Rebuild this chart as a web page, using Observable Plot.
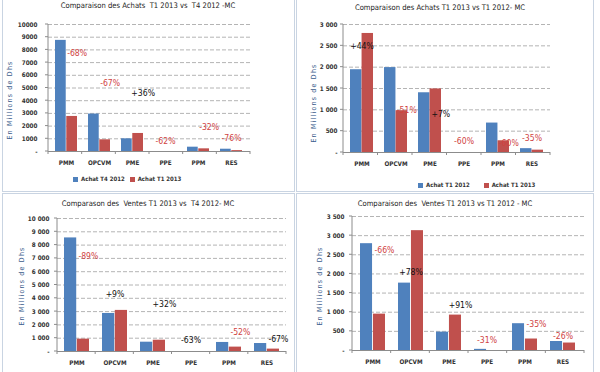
<!DOCTYPE html>
<html><head><meta charset="utf-8">
<script src="https://cdn.jsdelivr.net/npm/d3@7"></script>
<script src="https://cdn.jsdelivr.net/npm/@observablehq/plot@0.6"></script>
<style>
body{margin:0;background:#fff;}
#page{position:relative;width:600px;height:372px;overflow:hidden;background:#fff;font-family:"Liberation Sans Narrow","DejaVu Sans Condensed","Liberation Sans",sans-serif;}
.box{position:absolute;border:1px solid #c9d4e2;box-sizing:border-box;}
.title{position:absolute;width:300px;text-align:center;font-size:7.6px;color:#222;line-height:1;white-space:pre;}
.ylab{position:absolute;font-size:7px;color:#3b5c8c;letter-spacing:1.2px;white-space:nowrap;transform:translate(-50%,-50%) rotate(-90deg);line-height:1;}
.legend{position:absolute;font-size:6px;font-weight:bold;color:#333;white-space:nowrap;line-height:1;}
.sw{display:inline-block;width:5px;height:5px;margin-right:3px;vertical-align:-1px;}
.chart{position:absolute;}
</style></head><body><div id="page"></div>
<script>
const categories = ["PMM","OPCVM","PME","PPE","PPM","RES"];

// Panel 1 : Achats T1 2013 vs T4 2012
const p1Title = "Comparaison des Achats  T1 2013 vs  T4 2012 -MC";
const p1Series = ["Achat T4 2012","Achat T1 2013"];
const p1Blue = [8750, 2950, 1000, 0, 340, 180];
const p1Red  = [2760, 920, 1420, 0, 210, 70];
const p1Ticks = [0,1000,2000,3000,4000,5000,6000,7000,8000,9000,10000];
const p1TickLabels = ["-","1000","2000","3000","4000","5000","6000","7000","8000","9000","10000"];
const p1Labels = ["-68%","-67%","+36%","-62%","-32%","-76%"];
const p1LabelY = [7700, 5380, 4550, 790, 1910, 1080];
const p1LabelSide = ["r","r","r","c","r","c"];
const p1LabelTone = ["neg","neg","pos","neg","neg","neg"];

// Panel 2 : Achats T1 2013 vs T1 2012
const p2Title = "Comparaison des Achats T1 2013 vs T1 2012- MC";
const p2Series = ["Achat T1 2012","Achat T1 2013"];
const p2Blue = [1940, 1990, 1400, 0, 690, 90];
const p2Red  = [2790, 980, 1490, 0, 275, 55];
const p2Ticks = [0,500,1000,1500,2000,2500,3000];
const p2TickLabels = ["-","500","1 000","1 500","2 000","2 500","3 000"];
const p2Labels = ["+44%","-51%","+7%","-60%","-60%","-35%"];
const p2LabelY = [2490, 1000, 900, 260, 212, 340];
const p2LabelSide = ["c","r","r","c","r","c"];
const p2LabelTone = ["pos","neg","pos","neg","neg","neg"];

// Panel 3 : Ventes T1 2013 vs T4 2012
const p3Title = "Comparason des  Ventes T1 2013 vs  T4 2012- MC";
const p3Blue = [8540, 2860, 700, 0, 680, 600];
const p3Red  = [930, 3090, 850, 0, 330, 180];
const p3Ticks = [0,1000,2000,3000,4000,5000,6000,7000,8000,9000,10000];
const p3TickLabels = ["-","1 000","2 000","3 000","4 000","5 000","6 000","7 000","8 000","9 000","10 000"];
const p3Labels = ["-89%","+9%","+32%","-63%","-52%","-67%"];
const p3LabelY = [7160, 4270, 3520, 830, 1460, 930];
const p3LabelSide = ["r","c","r","c","r","r"];
const p3LabelTone = ["neg","pos","pos","pos","neg","pos"];

// Panel 4 : Ventes T1 2013 vs T1 2012
const p4Title = "Comparaison des  Ventes T1 2013 vs T1 2012 - MC";
const p4Blue = [2790, 1760, 480, 30, 700, 235];
const p4Red  = [950, 3130, 925, 0, 300, 195];
const p4Ticks = [0,500,1000,1500,2000,2500,3000,3500];
const p4TickLabels = ["-","500","1 000","1 500","2 000","2 500","3 000","3 500"];
const p4Labels = ["-66%","+78%","+91%","-31%","-35%","-26%"];
const p4LabelY = [2620, 2040, 1180, 260, 690, 380];
const p4LabelSide = ["r","c","r","c","r","c"];
const p4LabelTone = ["neg","pos","pos","neg","neg","neg"];

const BLUE = "#4f81bd", RED = "#c0504d";
const TONE = {neg: "#d0433f", pos: "#111"};
const yLabelText = "En Millions de Dhs";
const page = document.getElementById("page");

function el(cls, css, html) {
  const d = document.createElement("div");
  d.className = cls; Object.assign(d.style, css); if (html != null) d.innerHTML = html;
  page.appendChild(d); return d;
}

function panel(cfg) {
  const {rect, frame, blue, red, ticks, tickLabels, labels, labelY, labelSide, labelTone, tickPadding} = cfg;
  const pad = 0.33;
  const band = d3.scaleBand().domain(categories).range([frame.x0, frame.x1]).paddingInner(pad).paddingOuter(pad / 2);
  const bw = band.bandwidth();
  const fmt = new Map(ticks.map((t, i) => [t, tickLabels[i]]));
  const yMax = d3.max(ticks);
  const blueRows = categories.map((c, i) => ({cat: c, value: blue[i]}));
  const redRows = categories.map((c, i) => ({cat: c, value: red[i]}));
  const labelRows = categories.map((c, i) => ({cat: c, y: labelY[i], text: labels[i], side: labelSide[i], color: TONE[labelTone[i]]}));
  const n = categories.length;
  const axisMark = (index, scales, values, dims) => {
    const g = d3.create("svg:g").attr("stroke", "#8c8c8c").attr("fill", "none");
    const x0 = dims.marginLeft, x1 = dims.width - dims.marginRight, yb = dims.height - dims.marginBottom;
    g.append("line").attr("x1", x0).attr("x2", x0).attr("y1", dims.marginTop).attr("y2", yb);
    const step = (x1 - x0) / n;
    for (let k = 0; k <= n; k++) {
      const x = x0 + k * step;
      g.append("line").attr("x1", x).attr("x2", x).attr("y1", yb).attr("y2", yb + 3);
    }
    if (scales && typeof scales.y === "function") {
      for (const t of ticks) {
        const y = scales.y(t);
        g.append("line").attr("x1", x0 - 3).attr("x2", x0).attr("y1", y).attr("y2", y);
      }
    }
    return g.node();
  };
  const chart = Plot.plot({
    width: rect.w, height: rect.h,
    marginLeft: frame.x0 - rect.x, marginRight: rect.x + rect.w - frame.x1,
    marginTop: frame.y0 - rect.y, marginBottom: rect.y + rect.h - frame.y1,
    x: {domain: categories, paddingInner: pad, paddingOuter: pad / 2, tickSize: 0, tickPadding: 9, label: null},
    y: {domain: [0, yMax], ticks: ticks, tickFormat: d => fmt.get(d), tickSize: 0, tickPadding: tickPadding, label: null},
    color: {type: "identity"},
    style: {background: "transparent", overflow: "visible", fontFamily: '"Liberation Sans Narrow","DejaVu Sans Condensed","Liberation Sans",sans-serif', fontSize: "6.3px", fontWeight: "bold", color: "#333"},
    marks: [
      Plot.ruleY(ticks.filter(t => t > 0), {stroke: "#b4b4b4", strokeDasharray: "4,2"}),
      Plot.barY(blueRows, {x: "cat", y: "value", fill: BLUE, insetLeft: 0, insetRight: bw / 2}),
      Plot.barY(redRows, {x: "cat", y: "value", fill: RED, insetLeft: bw / 2, insetRight: 0}),
      axisMark,
      Plot.ruleY([0], {stroke: "#8c8c8c"}),
      Plot.text(labelRows.filter(d => d.side === "r"), {x: "cat", y: "y", text: "text", fill: "color", dx: bw / 4 + 5, fontSize: 8.6, fontWeight: "normal"}),
      Plot.text(labelRows.filter(d => d.side === "c"), {x: "cat", y: "y", text: "text", fill: "color", dx: 0, fontSize: 8.6, fontWeight: "normal"})
    ]
  });
  chart.classList.add("chart");
  chart.style.left = rect.x + "px";
  chart.style.top = rect.y + "px";
  page.appendChild(chart);
}

// panel frames (borders)
el("box", {left: "2px", top: "-1px", width: "293px", height: "193px"});
el("box", {left: "296px", top: "-1px", width: "298px", height: "193px"});
el("box", {left: "2px", top: "193px", width: "293px", height: "181px"});
el("box", {left: "296px", top: "193px", width: "298px", height: "181px"});

panel({rect: {x: 0, y: 0, w: 296, h: 193}, frame: {x0: 48, x1: 250, y0: 24, y1: 151},
  blue: p1Blue, red: p1Red, ticks: p1Ticks, tickLabels: p1TickLabels, labels: p1Labels, labelY: p1LabelY,
  labelSide: p1LabelSide, labelTone: p1LabelTone, tickPadding: 11});
panel({rect: {x: 296, y: 0, w: 304, h: 193}, frame: {x0: 343, x1: 550, y0: 24, y1: 152},
  blue: p2Blue, red: p2Red, ticks: p2Ticks, tickLabels: p2TickLabels, labels: p2Labels, labelY: p2LabelY,
  labelSide: p2LabelSide, labelTone: p2LabelTone, tickPadding: 6});
panel({rect: {x: 0, y: 193, w: 296, h: 179}, frame: {x0: 57, x1: 286, y0: 218, y1: 351},
  blue: p3Blue, red: p3Red, ticks: p3Ticks, tickLabels: p3TickLabels, labels: p3Labels, labelY: p3LabelY,
  labelSide: p3LabelSide, labelTone: p3LabelTone, tickPadding: 8});
panel({rect: {x: 296, y: 193, w: 304, h: 179}, frame: {x0: 352, x1: 584, y0: 216, y1: 350},
  blue: p4Blue, red: p4Red, ticks: p4Ticks, tickLabels: p4TickLabels, labels: p4Labels, labelY: p4LabelY,
  labelSide: p4LabelSide, labelTone: p4LabelTone, tickPadding: 8});

// titles
el("title", {left: (148 - 150) + "px", top: "2px"}, p1Title);
el("title", {left: (440 - 150) + "px", top: "4px"}, p2Title);
el("title", {left: (148 - 150) + "px", top: "200px"}, p3Title);
el("title", {left: (445 - 150) + "px", top: "200px"}, p4Title);

// y labels
[[10, 100], [314, 103], [22, 286], [320, 286]].forEach(([x, y]) => el("ylab", {left: x + "px", top: y + "px"}, yLabelText));

// legends
function legend(x, y, names, gap) {
  el("legend", {left: x + "px", top: (y - 3) + "px"},
    `<span class="sw" style="background:${BLUE}"></span>${names[0]}<span style="display:inline-block;width:${gap}px"></span><span class="sw" style="background:${RED}"></span>${names[1]}`);
}
legend(73, 179, p1Series, 5);
legend(418, 185, p2Series, 14);
</script></body></html>
